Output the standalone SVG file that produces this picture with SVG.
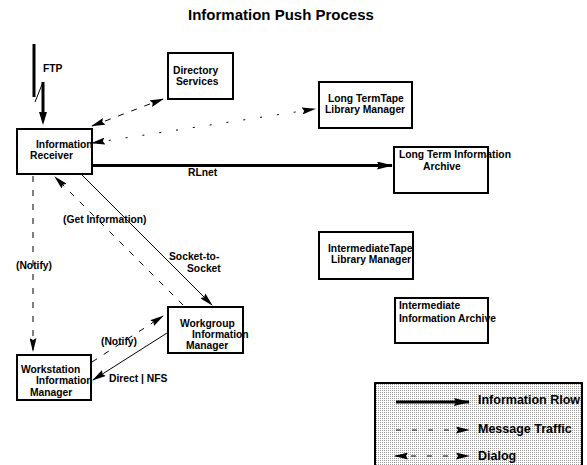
<svg xmlns="http://www.w3.org/2000/svg" width="587" height="465" viewBox="0 0 587 465">
<defs>
<style>
text{font-family:"Liberation Sans",Arial,sans-serif;font-weight:bold;fill:#000}
.n{font-size:10.3px}
.lg{font-size:12.5px}
.box{fill:#fff;stroke:#000;stroke-width:2}
.thick{stroke:#000;stroke-width:3;fill:none}
.thin{stroke:#000;stroke-width:1;fill:none}
.dash{stroke:#000;stroke-width:1;fill:none;stroke-dasharray:6 8}
.ldash{stroke:#000;stroke-width:1;fill:none;stroke-dasharray:5 11}
.dot{stroke:#000;stroke-width:1;fill:none;stroke-dasharray:2 15}
</style>
<marker id="ah" markerUnits="userSpaceOnUse" markerWidth="16" markerHeight="8" refX="15" refY="4" orient="auto" viewBox="0 0 16 8">
<path d="M0,0 L16,4 L0,8 L2,4 z" fill="#000"/>
</marker>
<marker id="as" markerUnits="userSpaceOnUse" markerWidth="14" markerHeight="7" refX="13" refY="3.5" orient="auto" viewBox="0 0 14 7">
<path d="M0,0 L14,3.5 L0,7 L2,3.5 z" fill="#000"/>
</marker>
<marker id="asr" markerUnits="userSpaceOnUse" markerWidth="14" markerHeight="7" refX="1" refY="3.5" orient="auto" viewBox="0 0 14 7">
<path d="M14,0 L0,3.5 L14,7 L12,3.5 z" fill="#000"/>
</marker>
<pattern id="dots" width="2" height="2" patternUnits="userSpaceOnUse">
<rect width="2" height="2" fill="#fff"/>
<rect width="1" height="1" fill="#9a9a9a"/>
</pattern>
</defs>
<rect width="587" height="465" fill="#fff"/>
<text x="188" y="20" style="font-size:15px">Information Push Process</text>

<g id="connectors">
<path class="thick" d="M34,44 L34,97"/>
<path class="thin" d="M35,102 L43,82"/>
<path class="thick" d="M43,82 L43,113"/>
<path d="M39,112 L47,112 L43,125 z" fill="#000"/>
<path class="thick" d="M92,165.5 L392,165.5" marker-end="url(#ah)"/>
<path class="dash" d="M92,126 L163,99" marker-start="url(#asr)" marker-end="url(#as)"/>
<path class="dot" d="M92,143 L315,109" marker-start="url(#asr)" marker-end="url(#as)"/>
<path class="thin" d="M82,175 L212,305" marker-end="url(#as)"/>
<path class="dash" d="M183,305 L55,177" marker-end="url(#as)"/>
<path class="dash" d="M33,176 L33,351" marker-end="url(#as)"/>
<path class="dash" d="M92,362 L163,316" marker-end="url(#as)"/>
<path class="thin" d="M167,333 L93,380" marker-end="url(#as)"/>
</g>

<g id="ir">
<rect class="box" x="17" y="129" width="75" height="45"/>
<text class="n" x="36" y="148">Information</text>
<text class="n" x="30" y="159">Receiver</text>
</g>
<g id="directory">
<rect class="box" x="168" y="53" width="65" height="46"/>
<text class="n" x="173" y="74">Directory</text>
<text class="n" x="176" y="85">Services</text>
</g>
<g id="lttape">
<rect class="box" x="319" y="82" width="93" height="46"/>
<text class="n" x="328" y="102">Long TermTape</text>
<text class="n" x="325" y="113">Library Manager</text>
</g>
<g id="ltarchive">
<rect class="box" x="394" y="147" width="94" height="46"/>
<text class="n" x="399" y="158">Long Term Information</text>
<text class="n" x="423" y="170">Archive</text>
</g>
<g id="itape">
<rect class="box" x="319" y="232" width="94" height="47"/>
<text class="n" x="328" y="252">IntermediateTape</text>
<text class="n" x="331" y="263">Library Manager</text>
</g>
<g id="iarchive">
<rect class="box" x="395" y="298" width="93" height="45"/>
<text class="n" x="399" y="309">Intermediate</text>
<text class="n" x="399" y="322">Information Archive</text>
</g>
<g id="workgroup">
<rect class="box" x="168" y="307" width="75" height="46"/>
<text class="n" x="180" y="327">Workgroup</text>
<text class="n" x="192" y="338">Information</text>
<text class="n" x="186" y="349">Manager</text>
</g>
<g id="workstation">
<rect class="box" x="17" y="355" width="74" height="45"/>
<text class="n" x="21" y="373">Workstation</text>
<text class="n" x="36" y="384">Information</text>
<text class="n" x="30" y="396">Manager</text>
</g>

<g id="labels">
<text class="n" x="43" y="72">FTP</text>
<text class="n" x="188" y="176">RLnet</text>
<text class="n" x="63" y="223">(Get Information)</text>
<text class="n" x="169" y="260">Socket-to-</text>
<text class="n" x="187" y="272">Socket</text>
<text class="n" x="16" y="269">(Notify)</text>
<text class="n" x="101" y="345">(Notify)</text>
<text class="n" x="109" y="382">Direct | NFS</text>
</g>

<g id="legend">
<rect x="375" y="383" width="207" height="90" fill="url(#dots)" stroke="#000" stroke-width="2"/>
<path class="thick" d="M396,402 L469,402" marker-end="url(#ah)"/>
<path class="ldash" d="M396,430 L469,430" marker-end="url(#as)"/>
<path class="ldash" d="M395,456 L469,456" marker-start="url(#asr)" marker-end="url(#as)"/>
<text class="lg" x="478" y="404">Information Rlow</text>
<text class="lg" x="478" y="433">Message Traffic</text>
<text class="lg" x="478" y="460">Dialog</text>
</g>
</svg>
